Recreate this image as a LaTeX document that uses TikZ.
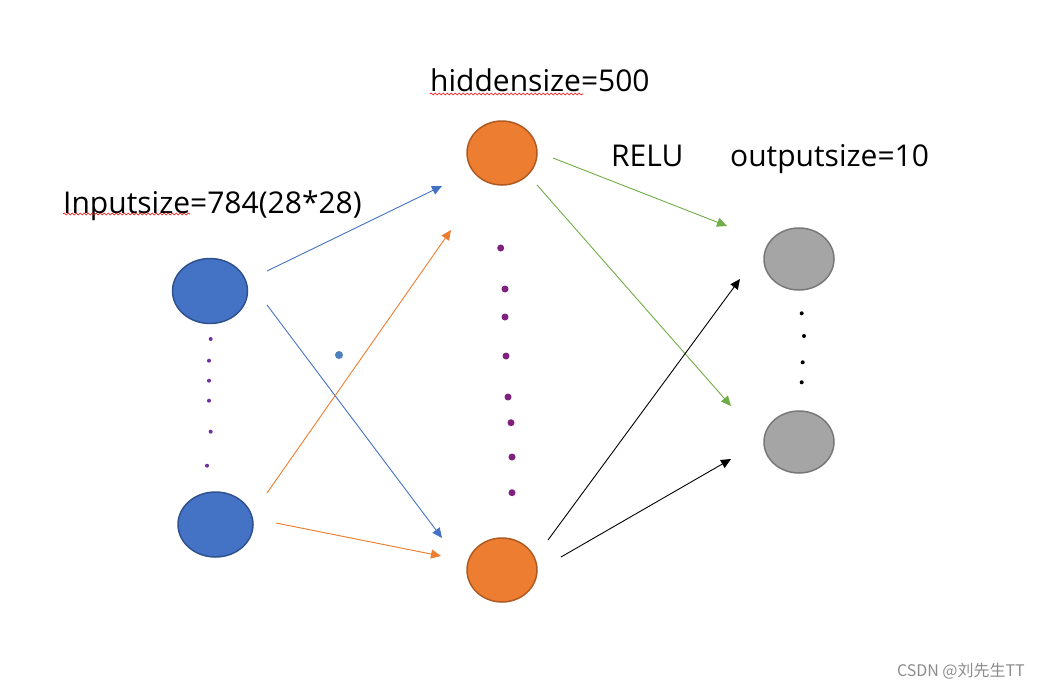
\documentclass[tikz,border=0pt]{standalone}
\usepackage{fontspec}
\setmainfont{Open Sans}
\newfontfamily\cjk{Noto Sans CJK SC}
\usetikzlibrary{arrows.meta,shapes.geometric,decorations.pathmorphing}
\definecolor{inblue}{HTML}{4472C4}
\definecolor{inblueline}{HTML}{2F528F}
\definecolor{hidorange}{HTML}{ED7D31}
\definecolor{hidorangeline}{HTML}{AE5A21}
\definecolor{outgrey}{HTML}{A5A5A5}
\definecolor{outgreyline}{HTML}{787878}
\definecolor{relugreen}{HTML}{70AD47}
\definecolor{dotpurple}{HTML}{7030A0}
\definecolor{dotplum}{HTML}{80207F}
\definecolor{straydot}{HTML}{4F81BD}

\begin{document}
\begin{tikzpicture}[x=1pt, y=-1pt,
  neuron/.style={ellipse, line width=1.5pt, inner sep=0pt,
    minimum width=72pt, minimum height=64pt},
  inneuron/.style={neuron, fill=inblue, draw=inblueline, minimum width=75pt, minimum height=65pt},
  hidneuron/.style={neuron, fill=hidorange, draw=hidorangeline, minimum width=70pt},
  outneuron/.style={neuron, fill=outgrey, draw=outgreyline, minimum width=70pt, minimum height=62pt},
  lbl/.style={anchor=base west, inner sep=0pt, font=\fontsize{30}{36}\selectfont},
  arr/.style={-{Triangle[length=10pt,width=9pt]}, line width=0.9pt},
  squiggle/.style={draw=red, line width=0.6pt,
    decorate, decoration={snake, amplitude=1pt, segment length=4pt}}
]
  \useasboundingbox (0,0) rectangle (1041,688);

  \node[inneuron] (in1) at (210,291) {};
  \node[inneuron] (in2) at (215.5,524.5) {};
  \node[hidneuron] (hid1) at (502,153) {};
  \node[hidneuron] (hid2) at (502,570) {};
  \node[outneuron] (out1) at (799,259) {};
  \node[outneuron] (out2) at (799,442) {};

  \node[lbl] (inlbl) at (63,213) {Inputsize=784(28*28)};
  \node[lbl] (hidlbl) at (430,91) {hiddensize=500};
  \node[lbl] (relulbl) at (611,166) {RELU};
  \node[lbl] (outlbl) at (730,166) {outputsize=10};
  \node[anchor=base east, inner sep=0pt, text=black!45,
    font=\cjk\fontsize{16}{18}\selectfont] (mark) at (1025,676) {CSDN @刘先生TT};

  \draw[squiggle] (63,214) -- (190,214);
  \draw[squiggle] (430,94) -- (583,94);

  \coordinate (a1s) at (267,271); \coordinate (a1e) at (442,186);
  \coordinate (a2s) at (267,305); \coordinate (a2e) at (442,538);
  \coordinate (a3s) at (267,493); \coordinate (a3e) at (451,230);
  \coordinate (a4s) at (276,523); \coordinate (a4e) at (441,556);
  \coordinate (a5s) at (553,158); \coordinate (a5e) at (727,226);
  \coordinate (a6s) at (537,185); \coordinate (a6e) at (731,406);
  \coordinate (a7s) at (548,540); \coordinate (a7e) at (740,279);
  \coordinate (a8s) at (561,557); \coordinate (a8e) at (731,459);

  \draw[arr, inblue] (a1s) -- (a1e);
  \draw[arr, inblue] (a2s) -- (a2e);
  \draw[arr, hidorange] (a3s) -- (a3e);
  \draw[arr, hidorange] (a4s) -- (a4e);
  \draw[arr, relugreen] (a5s) -- (a5e);
  \draw[arr, relugreen] (a6s) -- (a6e);
  \draw[arr, black] (a7s) -- (a7e);
  \draw[arr, black] (a8s) -- (a8e);

  \foreach \px/\py in {210.7/339, 209/360.7, 209/380.7, 209/400.7, 210.7/431.7, 207/465.7}
    \fill[dotpurple] (\px,\py) circle (2pt);
  \foreach \px/\py in {500.7/248, 505/289, 505/317, 506/356, 508/397, 511/422.7, 512/457, 512/492.7}
    \fill[dotplum] (\px,\py) circle (3.5pt);
  \foreach \px/\py in {801.7/313.3, 804/336, 802.7/362.3, 801.7/382.3}
    \fill[black] (\px,\py) circle (2pt);
  \fill[straydot] (339,355) circle (4pt);
\end{tikzpicture}
\end{document}
